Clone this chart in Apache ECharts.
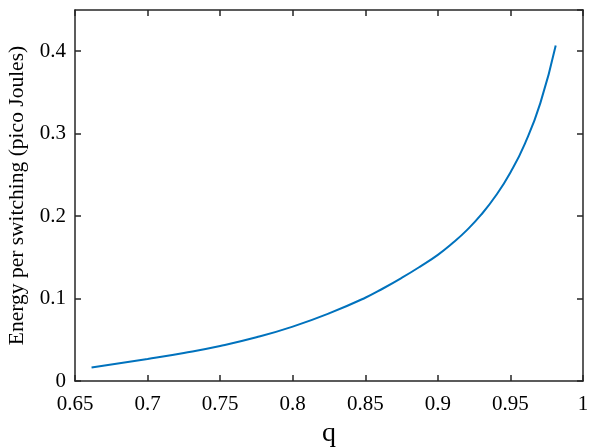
<!DOCTYPE html>
<html>
<head>
<meta charset="utf-8">
<script src="https://cdn.jsdelivr.net/npm/echarts@6/dist/echarts.min.js"></script>
<style>
  html, body { margin: 0; padding: 0; background: #fff; }
  #chart { width: 598px; height: 447px; }
</style>
</head>
<body>
<div id="chart"></div>
<script>
// q values and energy per switching (pico Joules)
var qVals = [0.6614, 0.7, 0.725, 0.75, 0.775, 0.8, 0.825, 0.85, 0.8625, 0.875, 0.8875, 0.9, 0.91, 0.92, 0.93, 0.94, 0.95, 0.96, 0.9706, 0.9812];
var energyVals = [0.0163, 0.0267, 0.034, 0.0425, 0.053, 0.066, 0.082, 0.101, 0.1125, 0.125, 0.1385, 0.153, 0.167, 0.183, 0.202, 0.225, 0.253, 0.288, 0.337, 0.407];

var xMin = 0.65, xMax = 1, xStep = 0.05;
var yMin = 0, yMax = 0.45, yStep = 0.1;

var axisColor = "#262626";
var font = "Liberation Serif";

var points = [];
for (var i = 0; i < qVals.length; i++) {
  points.push([qVals[i], energyVals[i]]);
}

function fmt(v) {
  return String(+v.toFixed(2));
}

var myChart = echarts.init(document.getElementById("chart"));
var option = {
  animation: false,
  grid: { left: 75, right: 15, top: 10, bottom: 66, containLabel: false, outerBoundsMode: "none" },
  xAxis: [
    {
      type: "value",
      min: xMin,
      max: xMax,
      interval: xStep,
      name: "q",
      nameLocation: "middle",
      nameGap: 26,
      nameTextStyle: { color: "#000", fontFamily: font, fontSize: 28 },
      axisLine: { show: true, onZero: false, lineStyle: { color: axisColor, width: 1.5 } },
      axisTick: { show: true, inside: true, length: 6, lineStyle: { color: axisColor, width: 1.5 } },
      axisLabel: { color: "#000", fontFamily: font, fontSize: 21, margin: 13, formatter: fmt },
      splitLine: { show: false }
    },
    {
      type: "value",
      position: "top",
      min: xMin,
      max: xMax,
      interval: xStep,
      axisLine: { show: true, onZero: false, lineStyle: { color: axisColor, width: 1.5 } },
      axisTick: { show: true, inside: true, length: 6, lineStyle: { color: axisColor, width: 1.5 } },
      axisLabel: { show: false },
      splitLine: { show: false }
    }
  ],
  yAxis: [
    {
      type: "value",
      min: yMin,
      max: yMax,
      interval: yStep,
      name: "Energy per switching (pico Joules)",
      nameLocation: "middle",
      nameGap: 46,
      nameTextStyle: { color: "#000", fontFamily: font, fontSize: 21.5 },
      axisLine: { show: true, onZero: false, lineStyle: { color: axisColor, width: 1.5 } },
      axisTick: { show: true, inside: true, length: 6, lineStyle: { color: axisColor, width: 1.5 } },
      axisLabel: { color: "#000", fontFamily: font, fontSize: 21, margin: 9, showMaxLabel: false, formatter: fmt },
      splitLine: { show: false }
    },
    {
      type: "value",
      position: "right",
      min: yMin,
      max: yMax,
      interval: yStep,
      axisLine: { show: true, onZero: false, lineStyle: { color: axisColor, width: 1.5 } },
      axisTick: { show: true, inside: true, length: 6, lineStyle: { color: axisColor, width: 1.5 } },
      axisLabel: { show: false },
      splitLine: { show: false }
    }
  ],
  series: [
    {
      type: "line",
      data: points,
      smooth: 0.5,
      showSymbol: false,
      lineStyle: { color: "#0072BD", width: 2 }
    }
  ]
};
myChart.setOption(option);
</script>
</body>
</html>
